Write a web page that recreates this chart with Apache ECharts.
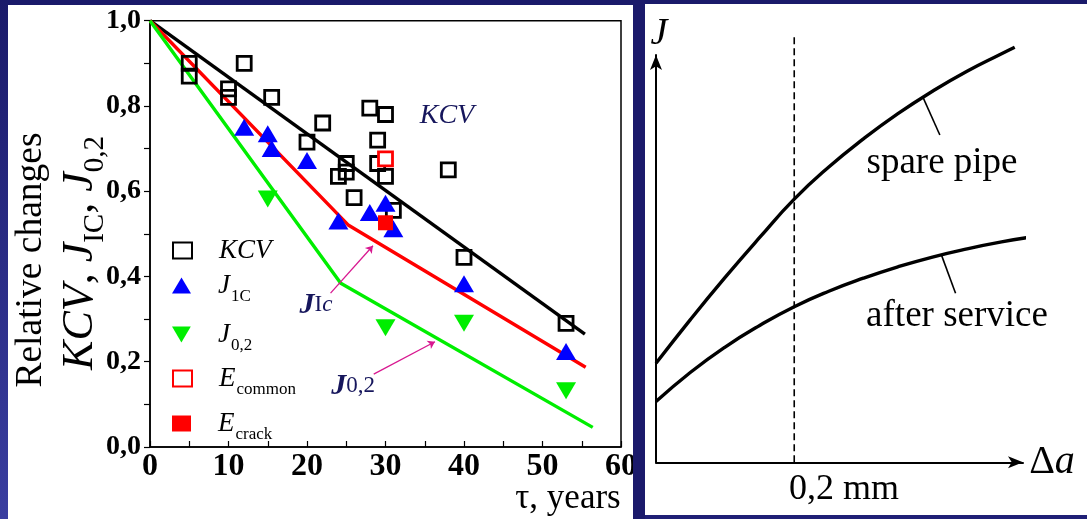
<!DOCTYPE html>
<html>
<head>
<meta charset="utf-8">
<script src="https://cdn.jsdelivr.net/npm/echarts@6/dist/echarts.min.js"></script>
<style>
  html, body { margin: 0; padding: 0; }
  body { width: 1087px; height: 519px; overflow: hidden;
         background: linear-gradient(to bottom, #1a1a6a, #1f1f76); }
  #chart { width: 1087px; height: 519px; }
</style>
</head>
<body>
<div id="chart"></div>
<script>
// ---- Left panel: relative changes vs. service time (years) ----
const kcvYears = [5, 5, 10, 10, 12, 15.5, 20, 22, 24, 25, 25, 26, 28, 29, 29, 30, 30, 31, 38, 40, 53];
const kcvValues = [0.90, 0.87, 0.84, 0.82, 0.90, 0.82, 0.715, 0.76, 0.635, 0.665, 0.645, 0.585, 0.795, 0.72, 0.665, 0.78, 0.635, 0.555, 0.65, 0.445, 0.29];

const j1cYears = [12, 15, 15.5, 20, 24, 28, 30, 31, 40, 53];
const j1cValues = [0.75, 0.735, 0.70, 0.672, 0.53, 0.55, 0.572, 0.512, 0.383, 0.224];

const j02Years = [15, 30, 40, 53];
const j02Values = [0.582, 0.28, 0.29, 0.132];

const eCommonYears = [30];
const eCommonValues = [0.676];
const eCrackYears = [30];
const eCrackValues = [0.526];

// trend lines
const kcvTrendX = [0, 55.4];
const kcvTrendY = [1.0, 0.265];
const jicTrendX = [0, 25.3, 55.5];
const jicTrendY = [1.0, 0.52, 0.187];
const j02TrendX = [0, 24.3, 56.4];
const j02TrendY = [1.0, 0.384, 0.046];

// pointer arrows for the trend-line captions
const jicArrow = [[23.0, 0.361], [28.4, 0.472]];
const j02Arrow = [[28.5, 0.171], [36.3, 0.247]];

const timeTicks = [0, 10, 20, 30, 40, 50, 60];

// ---- Right panel: J–R curves, J vs. crack growth Δa (mm) ----
const spareDa = [0, 0.05, 0.10, 0.15, 0.20, 0.25, 0.30, 0.35, 0.40, 0.45, 0.50, 0.519];
const spareJ = [0.243, 0.351, 0.454, 0.552, 0.646, 0.725, 0.794, 0.856, 0.911, 0.960, 1.003, 1.019];
const serviceDa = [0, 0.05, 0.10, 0.15, 0.20, 0.25, 0.30, 0.35, 0.40, 0.45, 0.50, 0.55, 0.589];
const serviceJ = [0.149, 0.221, 0.283, 0.336, 0.382, 0.420, 0.452, 0.480, 0.504, 0.524, 0.541, 0.555, 0.565];
const cutoffDa = 0.2;
const cutoffTop = 1.044;
const spareLeader = [[0.386, 0.897], [0.4107, 0.8036]];
const serviceLeader = [[0.4132, 0.508], [0.4334, 0.415]];

const zip = (xs, ys) => xs.map((x, i) => [x, ys[i]]);

const SERIF = '"Liberation Serif", "Times New Roman", serif';
const NAVY = '#1b1a6b';
const INK = '#16165c';
const MAGENTA = '#d81890';
const GREEN = '#00ee00';

const names = {
  KCV: '{g|}{i|KCV}',
  J1C: '{g|}{i|J}{s|1C}',
  J02: '{g|}{i|J}{s|0,2}',
  Ecommon: '{g|}{i|E}{s|common}',
  Ecrack: '{g|}{i|E}{s|crack}'
};
const legendRich = {
  g: { width: 22 },
  i: { fontFamily: SERIF, fontStyle: 'italic', fontSize: 27, color: '#000' },
  s: { fontFamily: SERIF, fontSize: 17, color: '#000', padding: [22, 0, 0, 1] }
};
const legendRows = [
  ['KCV', 237], ['J1C', 272], ['J02', 321], ['Ecommon', 365], ['Ecrack', 410]
];
const legendIcons = { J02: 'path://M0,0L20,0L10,17Z' };

const chart = echarts.init(document.getElementById('chart'), null, { renderer: 'canvas' });

const option = {
  animation: false,
  backgroundColor: 'transparent',
  grid: [
    { left: 150, top: 20.7, right: 466, bottom: 72, show: true, borderColor: '#000', borderWidth: 1.5, backgroundColor: 'transparent' },
    { left: 656, top: 55, right: 64, bottom: 56.7 }
  ],
  xAxis: [
    {
      gridIndex: 0, type: 'value', min: 0, max: 60, interval: 10,
      axisLine: { show: true, onZero: false, lineStyle: { color: '#000', width: 1.5 } },
      axisTick: { show: true, inside: true, length: 6, lineStyle: { color: '#000', width: 1.2 } },
      minorTick: { show: true, splitNumber: 2, length: 6, lineStyle: { color: '#000', width: 1.2 } },
      splitLine: { show: false },
      axisLabel: { color: '#000', fontFamily: SERIF, fontWeight: 'bold', fontSize: 32, margin: 4,
                   formatter: v => timeTicks.includes(v) ? String(v) : '' }
    },
    {
      gridIndex: 1, type: 'value', min: 0, max: 0.531,
      axisLine: { show: true, onZero: false, symbol: ['none', 'arrow'], symbolSize: [9, 15],
                  lineStyle: { color: '#000', width: 2 } },
      axisTick: { show: false }, axisLabel: { show: false }, splitLine: { show: false }
    }
  ],
  yAxis: [
    {
      gridIndex: 0, type: 'value', min: 0, max: 1, interval: 0.2,
      axisLine: { show: true, onZero: false, lineStyle: { color: '#000', width: 1.5 } },
      axisTick: { show: true, inside: false, length: 6, lineStyle: { color: '#000', width: 1.2 } },
      minorTick: { show: true, splitNumber: 2, length: 6, lineStyle: { color: '#000', width: 1.2 } },
      splitLine: { show: false },
      axisLabel: { color: '#000', fontFamily: SERIF, fontWeight: 'bold', fontSize: 28, margin: 9,
                   formatter: v => v.toFixed(1).replace('.', ',') }
    },
    {
      gridIndex: 1, type: 'value', min: 0, max: 1,
      axisLine: { show: true, onZero: false, symbol: ['none', 'arrow'], symbolSize: [9, 15],
                  lineStyle: { color: '#000', width: 2 } },
      axisTick: { show: false }, axisLabel: { show: false }, splitLine: { show: false }
    }
  ],
  legend: legendRows.map(([key, top]) => ({
    data: [legendIcons[key] ? { name: key, icon: legendIcons[key] } : key],
    left: 172, top: top, orient: 'vertical', padding: 0,
    itemWidth: 19, itemHeight: 16, selectedMode: false,
    formatter: n => names[n],
    textStyle: { rich: legendRich }
  })),
  series: [
    // trend lines
    { type: 'line', name: 'kcvTrend', data: zip(kcvTrendX, kcvTrendY), symbol: 'none',
      lineStyle: { color: '#000', width: 3.4 }, z: 2 },
    { type: 'line', name: 'jicTrend', data: zip(jicTrendX, jicTrendY), symbol: 'none',
      lineStyle: { color: '#ff0000', width: 3.4 }, z: 2 },
    { type: 'line', name: 'j02Trend', data: zip(j02TrendX, j02TrendY), symbol: 'none',
      lineStyle: { color: GREEN, width: 3.4 }, z: 2 },
    // measured points
    { type: 'scatter', name: 'KCV', data: zip(kcvYears, kcvValues), symbol: 'rect', symbolSize: 14,
      itemStyle: { color: 'rgba(0,0,0,0)', borderColor: '#000', borderWidth: 2.8, opacity: 1 }, z: 3 },
    { type: 'scatter', name: 'J1C', data: zip(j1cYears, j1cValues), symbol: 'triangle', symbolSize: [20, 17],
      itemStyle: { color: '#0000ff', opacity: 1 }, z: 4 },
    { type: 'scatter', name: 'J02', data: zip(j02Years, j02Values), symbol: 'triangle', symbolSize: [20, 17],
      symbolRotate: 180, itemStyle: { color: GREEN, opacity: 1 }, z: 4 },
    { type: 'scatter', name: 'Ecommon', data: zip(eCommonYears, eCommonValues), symbol: 'rect', symbolSize: 14,
      itemStyle: { color: '#ffffff', borderColor: '#ff0000', borderWidth: 2.8, opacity: 1 }, z: 5 },
    { type: 'scatter', name: 'Ecrack', data: zip(eCrackYears, eCrackValues), symbol: 'rect', symbolSize: 15,
      itemStyle: { color: '#ff0000', opacity: 1 }, z: 5 },
    // caption arrows
    { type: 'lines', coordinateSystem: 'cartesian2d', xAxisIndex: 0, yAxisIndex: 0,
      symbol: ['none', 'arrow'], symbolSize: 7,
      lineStyle: { color: MAGENTA, width: 1.3, opacity: 1 },
      data: [{ coords: jicArrow }, { coords: j02Arrow }], z: 6 },

    // right panel curves
    { type: 'line', name: 'spare pipe', xAxisIndex: 1, yAxisIndex: 1, data: zip(spareDa, spareJ),
      smooth: true, symbol: 'none', clip: false, lineStyle: { color: '#000', width: 3.4 } },
    { type: 'line', name: 'after service', xAxisIndex: 1, yAxisIndex: 1, data: zip(serviceDa, serviceJ),
      smooth: true, symbol: 'none', clip: false, lineStyle: { color: '#000', width: 3.4 } },
    { type: 'line', name: 'cutoff', xAxisIndex: 1, yAxisIndex: 1,
      data: [[cutoffDa, 0], [cutoffDa, cutoffTop]], symbol: 'none', clip: false,
      lineStyle: { color: '#000', width: 1.6, type: [7, 4] } },
    { type: 'line', name: 'spareLeader', xAxisIndex: 1, yAxisIndex: 1, data: spareLeader,
      symbol: 'none', clip: false, lineStyle: { color: '#000', width: 1.6 } },
    { type: 'line', name: 'serviceLeader', xAxisIndex: 1, yAxisIndex: 1, data: serviceLeader,
      symbol: 'none', clip: false, lineStyle: { color: '#000', width: 1.6 } }
  ],
  graphic: [
    // panels
    { type: 'rect', z: -100, shape: { x: 8, y: 5, width: 625, height: 520 }, style: { fill: '#ffffff' } },
    { type: 'rect', z: -100, shape: { x: 645, y: 4, width: 450, height: 511 }, style: { fill: '#ffffff' } },
    { type: 'rect', z: -100, shape: { x: 0, y: 0, width: 8, height: 519 },
      style: { fill: new echarts.graphic.LinearGradient(0, 0, 0, 1, [
        { offset: 0, color: '#1a1a6a' }, { offset: 1, color: '#3a3ea0' }]) } },
    { type: 'rect', z: 100, shape: { x: 633, y: 0, width: 12, height: 519 }, style: { fill: NAVY } },

    // left axis titles
    { type: 'text', x: 31, y: 260, rotation: Math.PI / 2, z: 10,
      style: { text: 'Relative changes', font: '37.5px ' + SERIF, fill: '#000', align: 'center', verticalAlign: 'middle' } },
    { type: 'text', x: 80, y: 253, rotation: Math.PI / 2, z: 10,
      style: { text: '{i|KCV}{r|, }{i|J}{s|IC}{r|, }{i|J}{s|0,2}', align: 'center', verticalAlign: 'middle',
        rich: {
          i: { fontFamily: SERIF, fontStyle: 'italic', fontSize: 44, fill: '#000' },
          r: { fontFamily: SERIF, fontSize: 44, fill: '#000' },
          s: { fontFamily: SERIF, fontSize: 29, fill: '#000', padding: [30, 0, 0, 0] }
        } } },
    { type: 'text', x: 568, y: 499, z: 10,
      style: { text: 'τ, years', font: '35px ' + SERIF, fill: '#000', align: 'center', verticalAlign: 'middle' } },

    // in-plot captions
    { type: 'text', x: 447, y: 116, z: 10,
      style: { text: 'KCV', font: 'italic 28px ' + SERIF, fill: INK, align: 'center', verticalAlign: 'middle' } },
    { type: 'text', x: 316, y: 305, z: 10,
      style: { text: '{b|J}{r|I}{c|c}', align: 'center', verticalAlign: 'middle',
        rich: {
          b: { fontFamily: SERIF, fontStyle: 'italic', fontWeight: 'bold', fontSize: 30, fill: INK },
          r: { fontFamily: SERIF, fontSize: 23, fill: INK },
          c: { fontFamily: SERIF, fontStyle: 'italic', fontSize: 23, fill: INK }
        } } },
    { type: 'text', x: 353, y: 386, z: 10,
      style: { text: '{b|J}{r|0,2}', align: 'center', verticalAlign: 'middle',
        rich: {
          b: { fontFamily: SERIF, fontStyle: 'italic', fontWeight: 'bold', fontSize: 30, fill: INK },
          r: { fontFamily: SERIF, fontSize: 23, fill: INK }
        } } },

    // right panel texts
    { type: 'text', x: 659, y: 34, z: 10,
      style: { text: 'J', font: 'italic 38px ' + SERIF, fill: '#000', align: 'center', verticalAlign: 'middle' } },
    { type: 'text', x: 1052, y: 462, z: 10,
      style: { text: '{r|Δ}{i|a}', align: 'center', verticalAlign: 'middle',
        rich: {
          r: { fontFamily: SERIF, fontSize: 40, fill: '#000' },
          i: { fontFamily: SERIF, fontStyle: 'italic', fontSize: 40, fill: '#000' }
        } } },
    { type: 'text', x: 844, y: 490, z: 10,
      style: { text: '0,2 mm', font: '36px ' + SERIF, fill: '#000', align: 'center', verticalAlign: 'middle' } },
    { type: 'text', x: 942, y: 163, z: 10,
      style: { text: 'spare pipe', font: '37px ' + SERIF, fill: '#000', align: 'center', verticalAlign: 'middle' } },
    { type: 'text', x: 957, y: 316, z: 10,
      style: { text: 'after service', font: '37px ' + SERIF, fill: '#000', align: 'center', verticalAlign: 'middle' } }
  ]
};

chart.setOption(option);
</script>
</body>
</html>
